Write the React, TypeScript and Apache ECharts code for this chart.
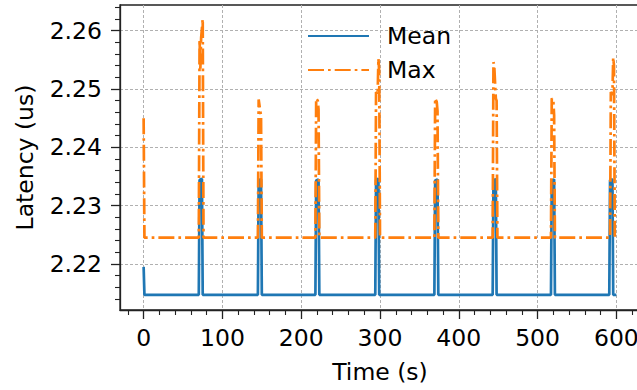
import React, { useEffect, useRef } from "react";
import * as echarts from "echarts";

// Mean latency (us) sampled at time (s); flat stretches keep only their end points
const meanTime = [
  0, 1,
  70, 71, 74, 75,
  145, 146, 149, 150,
  218, 219, 222, 223,
  294, 295, 298, 299,
  369, 370, 373, 374,
  443, 444, 447, 448,
  517, 518, 521, 522,
  591, 592, 595, 596,
  600,
];
const meanLatency = [
  2.2195, 2.2147,
  2.2147, 2.2344, 2.2346, 2.2147,
  2.2147, 2.2344, 2.2345, 2.2147,
  2.2147, 2.2343, 2.2345, 2.2147,
  2.2147, 2.2344, 2.2346, 2.2147,
  2.2147, 2.2343, 2.2345, 2.2147,
  2.2147, 2.2344, 2.2345, 2.2147,
  2.2147, 2.2343, 2.2345, 2.2147,
  2.2147, 2.2344, 2.2345, 2.2147,
  2.2147,
];

// Max latency (us)
const maxTime = [
  0, 1,
  70, 71, 72, 73, 75, 76,
  145, 146, 148, 149, 150,
  218, 219, 221, 222, 223,
  294, 295, 297, 298, 299, 300,
  369, 370, 372, 373, 374,
  443, 444, 445, 447, 448, 449,
  517, 518, 520, 521, 522,
  592, 593, 595, 596, 597, 598,
];
const maxLatency = [
  2.2450, 2.2245,
  2.2245, 2.2585, 2.2535, 2.2588, 2.2620, 2.2245,
  2.2245, 2.2482, 2.2462, 2.2455, 2.2245,
  2.2245, 2.2484, 2.2480, 2.2465, 2.2245,
  2.2245, 2.2495, 2.2490, 2.2552, 2.2530, 2.2245,
  2.2245, 2.2484, 2.2478, 2.2462, 2.2245,
  2.2245, 2.2546, 2.2540, 2.2484, 2.2480, 2.2245,
  2.2245, 2.2484, 2.2480, 2.2455, 2.2245,
  2.2245, 2.2495, 2.2490, 2.2554, 2.2540, 2.2245,
];

const xMajorTicks = [0, 100, 200, 300, 400, 500, 600];
const xMinorTicks = [
  -20, 20, 40, 60, 80, 120, 140, 160, 180, 220, 240, 260, 280, 320, 340, 360,
  380, 420, 440, 460, 480, 520, 540, 560, 580, 620,
];
const yMajorTicks = [2.22, 2.23, 2.24, 2.25, 2.26];
const yMinorTicks = [
  2.214, 2.216, 2.218, 2.222, 2.224, 2.226, 2.228, 2.232, 2.234, 2.236, 2.238,
  2.242, 2.244, 2.246, 2.248, 2.252, 2.254, 2.256, 2.258, 2.262, 2.264,
];

const FONT = "DejaVu Sans";
const FS = 23.5;
const AXIS_COLOR = "#222";

export default function App() {
  const ref = useRef<HTMLDivElement>(null);

  useEffect(() => {
    if (!ref.current) return;
    const chart = echarts.init(ref.current, undefined, { renderer: "svg" });
    const meanData = meanTime.map((t, i) => [t, meanLatency[i]]);
    const maxData = maxTime.map((t, i) => [t, maxLatency[i]]);

    const xBase = { type: "value", min: -30, max: 630, gridIndex: 0, position: "bottom" };
    const yBase = { type: "value", min: 2.2121, max: 2.2644, gridIndex: 0, position: "left" };

    chart.setOption({
      animation: false,
      backgroundColor: "#fff",
      grid: {
        left: 120,
        top: 5,
        width: 520,
        height: 305,
        show: true,
        borderColor: AXIS_COLOR,
        borderWidth: 1.3,
        backgroundColor: "transparent",
        outerBoundsMode: "none",
        containLabel: false,
      },
      legend: {
        data: ["Mean", "Max"],
        orient: "vertical",
        left: 302,
        top: 19,
        itemWidth: 61,
        itemHeight: 14,
        itemGap: 10,
        itemStyle: { opacity: 0 },
        textStyle: { fontFamily: FONT, fontSize: FS, color: "#000", padding: [0, 0, 0, 13] },
      },
      xAxis: [
        {
          ...xBase,
          name: "Time (s)",
          nameLocation: "middle",
          nameGap: 50,
          nameTextStyle: { fontFamily: FONT, fontSize: FS, color: "#000" },
          axisLine: { show: true, onZero: false, lineStyle: { color: AXIS_COLOR, width: 1.3 } },
          axisTick: { show: true, inside: false, length: 9, customValues: xMajorTicks, lineStyle: { color: AXIS_COLOR, width: 1.3 } },
          axisLabel: { show: true, customValues: xMajorTicks, fontFamily: FONT, fontSize: FS, color: "#000", margin: 16 },
          splitLine: { show: true, lineStyle: { type: [3, 2], color: "#b0b0b0", width: 1 } },
        },
        {
          ...xBase,
          axisLine: { show: false, onZero: false },
          axisTick: { show: true, inside: false, length: 5, customValues: xMinorTicks, lineStyle: { color: AXIS_COLOR, width: 1.1 } },
          axisLabel: { show: false },
          splitLine: { show: false },
        },
      ],
      yAxis: [
        {
          ...yBase,
          name: "Latency (us)",
          nameLocation: "middle",
          nameGap: 83,
          nameTextStyle: { fontFamily: FONT, fontSize: FS, color: "#000" },
          axisLine: { show: true, onZero: false, lineStyle: { color: AXIS_COLOR, width: 1.3 } },
          axisTick: { show: true, inside: false, length: 9, customValues: yMajorTicks, lineStyle: { color: AXIS_COLOR, width: 1.3 } },
          axisLabel: {
            show: true,
            customValues: yMajorTicks,
            fontFamily: FONT,
            fontSize: FS,
            color: "#000",
            margin: 18,
            formatter: (v: number) => v.toFixed(2),
          },
          splitLine: { show: true, lineStyle: { type: [3, 2], color: "#b0b0b0", width: 1 } },
        },
        {
          ...yBase,
          axisLine: { show: false, onZero: false },
          axisTick: { show: true, inside: false, length: 5, customValues: yMinorTicks, lineStyle: { color: AXIS_COLOR, width: 1.1 } },
          axisLabel: { show: false },
          splitLine: { show: false },
        },
      ],
      series: [
        {
          name: "Mean",
          type: "line",
          xAxisIndex: 0,
          yAxisIndex: 0,
          data: meanData,
          symbol: "none",
          showSymbol: false,
          lineStyle: { color: "#1f77b4", width: 2.7 },
          itemStyle: { color: "#1f77b4" },
          z: 3,
        },
        {
          name: "Max",
          type: "line",
          xAxisIndex: 0,
          yAxisIndex: 0,
          data: maxData,
          symbol: "none",
          showSymbol: false,
          lineStyle: { color: "#ff7f0e", width: 2.7, type: [16, 4, 2.7, 4] },
          itemStyle: { color: "#ff7f0e" },
          z: 4,
        },
      ],
    });
    return () => chart.dispose();
  }, []);

  return (
    <div
      ref={ref}
      style={{ position: "absolute", left: 0, top: 0, width: 637, height: 390 }}
    />
  );
}
